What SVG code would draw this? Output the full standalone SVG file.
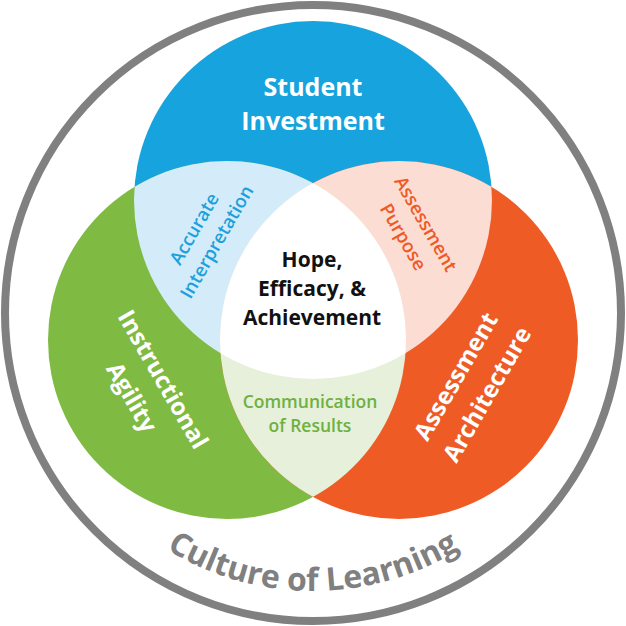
<svg xmlns="http://www.w3.org/2000/svg" xmlns:xlink="http://www.w3.org/1999/xlink" width="626" height="626" viewBox="0 0 626 626">
<style>
.t{font-family:"Open Sans","Noto Sans","Liberation Sans",sans-serif;text-anchor:middle}
.b{font-weight:700}
.s{font-weight:600}
.w{fill:#ffffff}
</style>
<defs>
<clipPath id="cg"><circle cx="227" cy="340" r="179"/></clipPath>
<clipPath id="co"><circle cx="399" cy="340" r="179"/></clipPath>
<path id="arc" d="M 35 313 A 278 278 0 0 0 591 313"/>
</defs>
<rect width="626" height="626" fill="#ffffff"/>
<g id="ring">
<circle cx="313" cy="313" r="308" fill="#ffffff" stroke="#808080" stroke-width="8"/>
<text class="t b" font-size="32" fill="#808080"><textPath xlink:href="#arc" href="#arc" startOffset="50%">Culture of Learning</textPath></text>
</g>
<g id="student-investment">
<circle cx="313" cy="200" r="179" fill="#17A3DD"/>
<text class="t b w" font-size="25" x="313" y="96">Student</text>
<text class="t b w" font-size="25" x="313" y="130">Investment</text>
</g>
<g id="instructional-agility">
<circle cx="227" cy="340" r="179" fill="#7FBA42"/>
</g>
<g id="assessment-architecture">
<circle cx="399" cy="340" r="179" fill="#EF5B25"/>
</g>
<g id="accurate-interpretation">
<circle cx="313" cy="200" r="179" fill="#D4ECF9" clip-path="url(#cg)"/>
</g>
<g id="assessment-purpose">
<circle cx="313" cy="200" r="179" fill="#FBDDD3" clip-path="url(#co)"/>
</g>
<g id="communication-of-results">
<circle cx="227" cy="340" r="179" fill="#E6F0DA" clip-path="url(#co)"/>
</g>
<g id="hope-efficacy-achievement">
<g clip-path="url(#cg)"><circle cx="313" cy="200" r="179" fill="#ffffff" clip-path="url(#co)"/></g>
<text class="t b" font-size="21" fill="#111111" x="312" y="267">Hope,</text>
<text class="t b" font-size="21" fill="#111111" x="312" y="296">Efficacy, &amp;</text>
<text class="t b" font-size="21" fill="#111111" x="312" y="325">Achievement</text>
</g>
<g id="labels">
<g transform="translate(205,235) rotate(-60)">
<text class="t s" font-size="18.5" fill="#1DA1DC" x="0" y="-6">Accurate</text>
<text class="t s" font-size="18.5" fill="#1DA1DC" x="0" y="20">Interpretation</text>
</g>
<g transform="translate(415,230) rotate(60)">
<text class="t s" font-size="18.5" fill="#EE5A25" x="0" y="-6">Assessment</text>
<text class="t s" font-size="18.5" fill="#EE5A25" x="0" y="20">Purpose</text>
</g>
<g transform="translate(148,388) rotate(60)">
<text class="t b w" font-size="24" x="0" y="-9">Instructional</text>
<text class="t b w" font-size="24" x="0" y="27">Agility</text>
</g>
<g transform="translate(471,385) rotate(-60)">
<text class="t b w" font-size="24" x="0" y="-9">Assessment</text>
<text class="t b w" font-size="24" x="0" y="27">Architecture</text>
</g>
<text class="t s" font-size="17.5" fill="#6FB13F" x="310" y="408">Communication</text>
<text class="t s" font-size="17.5" fill="#6FB13F" x="310" y="432">of Results</text>
</g>
</svg>
